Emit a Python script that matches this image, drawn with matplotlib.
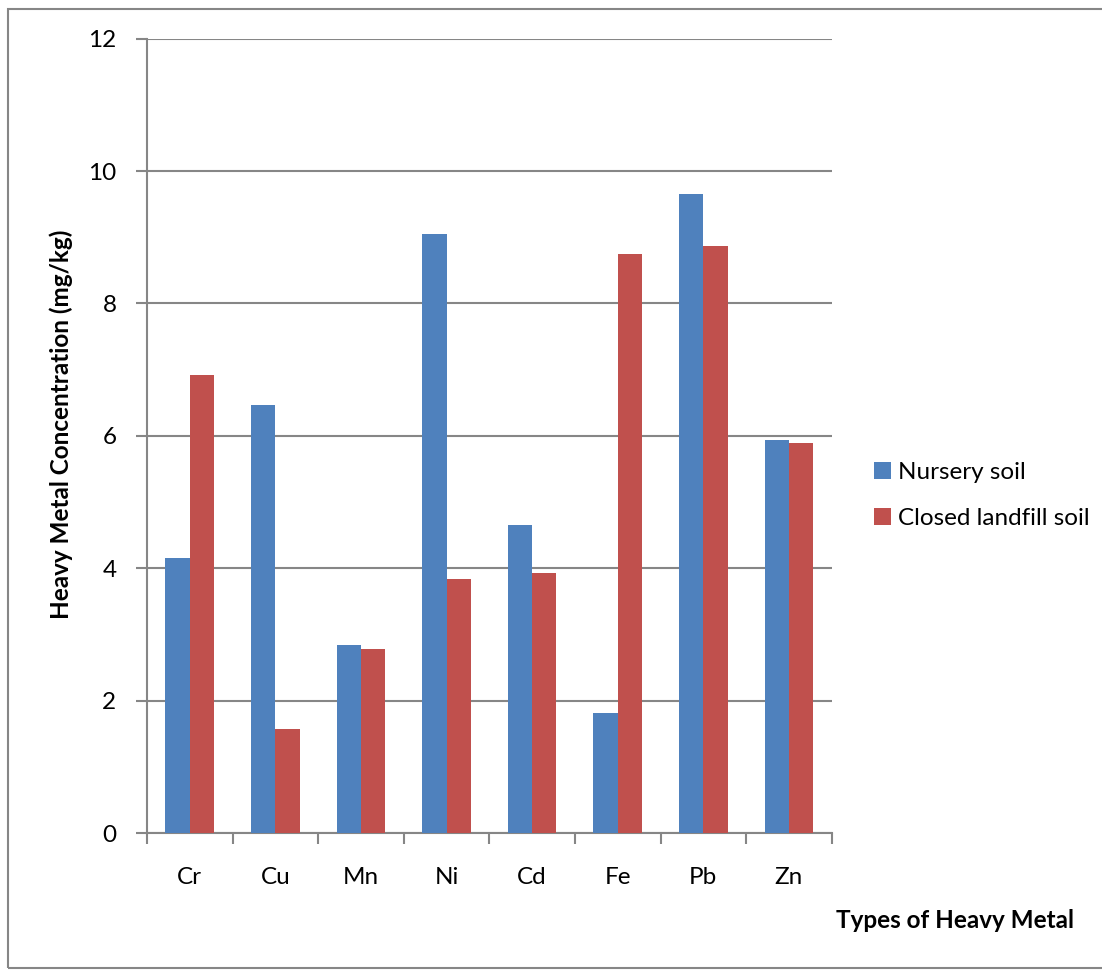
import numpy as np
import matplotlib.pyplot as plt
from matplotlib.patches import Rectangle

metals = ['Cr', 'Cu', 'Mn', 'Ni', 'Cd', 'Fe', 'Pb', 'Zn']
nursery = [4.15, 6.46, 2.84, 9.05, 4.66, 1.81, 9.66, 5.94]
landfill = [6.92, 1.57, 2.79, 3.84, 3.93, 8.75, 8.87, 5.89]

plt.rcParams['font.family'] = ['Lato', 'DejaVu Sans']
fs = 17.5

fig = plt.figure(figsize=(11.02, 9.71), dpi=100)
ax = fig.add_axes([0.1334, 0.1418, 0.6213, 0.8185])

# outer chart frame
fig.patches.append(Rectangle((8 / 1102, 3 / 971), 1.2, 959 / 971, transform=fig.transFigure,
                             fill=False, edgecolor='#868686', linewidth=1.5))

x = np.arange(len(metals))
w = 0.284
ax.bar(x - w / 2, nursery, w, color='#4F81BD', label='Nursery soil', zorder=3)
ax.bar(x + w / 2, landfill, w, color='#C0504D', label='Closed landfill soil', zorder=3)

ax.set_xlim(-0.5, len(metals) - 0.5)
ax.set_ylim(0, 12)
ax.set_yticks(range(0, 13, 2))
ax.yaxis.grid(True, color='#868686', linewidth=1.5, zorder=0)

ax.set_xticks(x)
ax.set_xticklabels(metals)
ax.set_xticks(np.arange(-0.5, len(metals)), minor=True)
ax.tick_params(axis='x', which='major', length=0, pad=24, labelsize=fs)
ax.tick_params(axis='x', which='minor', length=8, width=1.5, color='#868686', direction='out')
ax.tick_params(axis='y', length=8, width=1.5, color='#868686', pad=14, labelsize=fs)

for s in ['top', 'right']:
    ax.spines[s].set_visible(False)
for s in ['left', 'bottom']:
    ax.spines[s].set_color('#868686')
    ax.spines[s].set_linewidth(1.5)

ax.set_ylabel('Heavy Metal Concentration (mg/kg)', fontsize=fs, fontweight='bold')
ax.yaxis.set_label_coords(-0.108, 0.515)
fig.text(955 / 1102, 1 - 920 / 971, 'Types of Heavy Metal', fontsize=fs, fontweight='bold',
         ha='center', va='center')

ax.legend(loc='center left', bbox_to_anchor=(1.03, 0.425), frameon=False, fontsize=fs,
          handlelength=0.7, handleheight=0.7, handletextpad=0.3, labelspacing=1.05)

fig.savefig('out.png', dpi=100)
